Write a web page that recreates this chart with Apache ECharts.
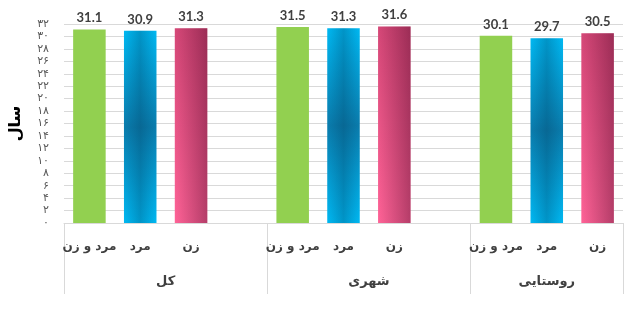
<!DOCTYPE html>
<html>
<head>
<meta charset="utf-8">
<script src="https://cdn.jsdelivr.net/npm/echarts@6/dist/echarts.min.js"></script>
<style>html,body{margin:0;padding:0;background:#fff}#c{width:636px;height:314px}</style>
</head>
<body>
<div id="c"></div>
<script>
// ---- data ----
const subCategories = ['مرد و زن', 'مرد', 'زن'];
const groupNames = ['کل', 'شهری', 'روستایی'];
const totalValues = [31.1, 30.9, 31.3];
const urbanValues = [31.5, 31.3, 31.6];
const ruralValues = [30.1, 29.7, 30.5];
const yTickValues = [0, 2, 4, 6, 8, 10, 12, 14, 16, 18, 20, 22, 24, 26, 28, 30, 32];
const yAxisTitle = 'سال';

// ---- styles ----
const barStyles = [
  { color: '#92D050' },
  { color: { type: 'linear', x: 0, y: 0, x2: 0, y2: 1, colorStops: [
      { offset: 0, color: '#00B9F3' }, { offset: 0.5, color: '#0A7DAE' }, { offset: 1, color: '#00B9F3' }] } },
  { color: { type: 'linear', x: 0, y: 0, x2: 0, y2: 1, colorStops: [
      { offset: 0, color: '#D64878' }, { offset: 1, color: '#FF6397' }] } }
];
const shadeStyles = [
  { color: 'rgba(0,0,0,0)' },
  { color: { type: 'linear', x: 0, y: 0, x2: 1, y2: 0, colorStops: [
      { offset: 0, color: 'rgba(0,40,70,0)' }, { offset: 0.5, color: 'rgba(0,40,70,0.25)' }, { offset: 1, color: 'rgba(0,40,70,0)' }] } },
  { color: { type: 'linear', x: 0, y: 0, x2: 1, y2: 0, colorStops: [
      { offset: 0, color: 'rgba(60,0,30,0)' }, { offset: 1, color: 'rgba(60,0,30,0.38)' }] } }
];

// ---- build category slots (spacer after each group except the last) ----
const groupValues = [totalValues, urbanValues, ruralValues];
const categories = [];
const mainData = [];
const shadeData = [];
const groupStarts = [];
const groupSizes = [];
groupValues.forEach((vals, gi) => {
  groupStarts.push(categories.length);
  vals.forEach((v, i) => {
    categories.push(subCategories[i]);
    mainData.push({ value: v, itemStyle: barStyles[i] });
    shadeData.push({ value: v, itemStyle: shadeStyles[i] });
  });
  if (gi < groupValues.length - 1) {
    categories.push('');
    mainData.push({ value: null });
    shadeData.push({ value: null });
  }
  groupSizes.push(categories.length - groupStarts[gi]);
});
const slotCount = categories.length;
const boundaryIdx = groupStarts.slice();
const groupCenterLabel = {};
groupStarts.forEach((s, i) => { groupCenterLabel[(s + groupSizes[i] / 2).toFixed(1)] = groupNames[i]; });

const faDigits = '۰۱۲۳۴۵۶۷۸۹';
const toFa = n => String(n).replace(/\d/g, d => faDigits[+d]);

const chart = echarts.init(document.getElementById('c'), null, { renderer: 'canvas' });
chart.setOption({
  animation: false,
  backgroundColor: '#ffffff',
  grid: { left: 63, right: 13, top: 24, bottom: 91, containLabel: false },
  xAxis: [
    {
      type: 'category',
      data: categories,
      axisLine: { show: true, lineStyle: { color: '#D9D9D9', width: 1 } },
      axisTick: { show: true, interval: (i) => boundaryIdx.indexOf(i) >= 0, length: 71, lineStyle: { color: '#D9D9D9', width: 1 } },
      axisLabel: { interval: 0, margin: 18, color: '#404040', fontSize: 12, fontWeight: 'bold', fontFamily: 'DejaVu Sans' },
      splitLine: { show: false }
    },
    {
      type: 'value',
      position: 'bottom',
      min: 0, max: slotCount, interval: 0.5,
      axisLine: { show: false }, axisTick: { show: false }, splitLine: { show: false },
      axisLabel: {
        margin: 52, color: '#404040', fontSize: 13, fontWeight: 'bold', fontFamily: 'DejaVu Sans',
        showMinLabel: true, showMaxLabel: true,
        formatter: v => groupCenterLabel[Number(v).toFixed(1)] || ''
      }
    }
  ],
  yAxis: {
    type: 'value',
    min: yTickValues[0], max: yTickValues[yTickValues.length - 1], interval: yTickValues[1] - yTickValues[0],
    name: yAxisTitle, nameLocation: 'middle', nameRotate: 90, nameGap: 40,
    nameTextStyle: { color: '#000', fontSize: 16, fontWeight: 'bold', fontFamily: 'DejaVu Sans' },
    axisLine: { show: false }, axisTick: { show: false },
    axisLabel: { margin: 15, color: '#595959', fontSize: 11, fontFamily: 'DejaVu Sans', formatter: v => toFa(v) },
    splitLine: { lineStyle: { color: '#D9D9D9', width: 1 } }
  },
  series: [
    {
      type: 'bar', xAxisIndex: 0, data: mainData, barWidth: '64%',
      label: { show: true, position: 'top', distance: 5, color: '#404040', fontSize: 13, fontWeight: 'bold', fontFamily: 'Lato',
        formatter: p => p.value == null ? '' : p.value.toFixed(1) }
    },
    {
      type: 'bar', xAxisIndex: 0, data: shadeData, barWidth: '64%', barGap: '-100%', silent: true, z: 3
    }
  ]
});
</script>
</body>
</html>
